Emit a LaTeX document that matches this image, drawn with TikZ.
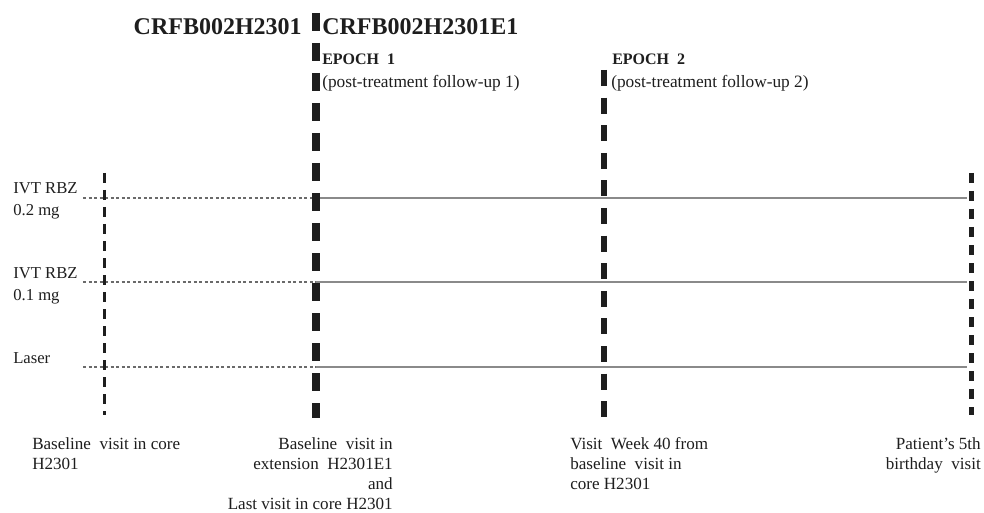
\documentclass[tikz,border=0pt]{standalone}
\usepackage{fontspec}
\setmainfont{Liberation Serif}
\definecolor{ink}{HTML}{1E1E1E}
\definecolor{armgray}{HTML}{8A8A8A}
\definecolor{dotgray}{HTML}{6A6A6A}
\tikzset{
  vthin/.style={ink, line width=2.25pt, dash pattern=on 7.5pt off 5.25pt},
  vthick/.style={ink, line width=5.4pt, dash pattern=on 13.5pt off 9pt},
  vmid/.style={ink, line width=4.5pt, dash pattern=on 12pt off 8.7pt},
  vend/.style={ink, line width=3.75pt, dash pattern=on 7.5pt off 6pt},
  armdot/.style={dotgray, line width=1.5pt, dash pattern=on 2.25pt off 1.9pt},
  armsolid/.style={armgray, line width=1.5pt},
  title/.style={ink, inner sep=0pt, font={\fontsize{18}{21}\selectfont\bfseries}},
  epoch/.style={ink, inner sep=0pt, font={\fontsize{12}{14}\selectfont\bfseries}},
  sub/.style={ink, inner sep=0pt, font={\fontsize{13}{15}\selectfont}},
  armlab/.style={ink, inner sep=0pt, align=left, font={\fontsize{12.5}{16.5}\selectfont}},
  botl/.style={ink, inner sep=0pt, align=left, font={\fontsize{12.8}{15}\selectfont}},
  botr/.style={ink, inner sep=0pt, align=right, font={\fontsize{12.8}{15}\selectfont}},
}
\begin{document}
\begin{tikzpicture}[x=0.75pt,y=-0.75pt]
\useasboundingbox (0,0) rectangle (984,513);
% vertical markers
\coordinate (a1) at (104,173); \coordinate (a2) at (104,415);
\coordinate (b1) at (316,13);  \coordinate (b2) at (316,418);
\coordinate (c1) at (604,70);  \coordinate (c2) at (604,417);
\coordinate (d1) at (971,173); \coordinate (d2) at (971,415);
% arm lines
\coordinate (s1) at (83,198);  \coordinate (m1) at (316,198); \coordinate (e1) at (967,198);
\coordinate (s2) at (83,282);  \coordinate (m2) at (316,282); \coordinate (e2) at (967,282);
\coordinate (s3) at (83,367);  \coordinate (m3) at (316,367); \coordinate (e3) at (967,367);
\draw[armdot] (s1) -- (m1);
\draw[armdot] (s2) -- (m2);
\draw[armdot] (s3) -- (m3);
\draw[armsolid] (m1) -- (e1);
\draw[armsolid] (m2) -- (e2);
\draw[armsolid] (m3) -- (e3);
\draw[vthin] (a1) -- (a2);
\draw[vthick] (b1) -- (b2);
\draw[vmid] (c1) -- (c2);
\draw[vend] (d1) -- (d2);
% titles
\node[title, anchor=base east] (t1) at (302,35) {CRFB002H2301};
\node[title, anchor=base west] (t2) at (322,35) {CRFB002H2301E1};
\node[epoch, anchor=base west] (ep1) at (322,65) {EPOCH\ \ 1};
\node[sub, anchor=base west] (fu1) at (322,88) {(post-treatment follow-up 1)};
\node[epoch, anchor=base west] (ep2) at (612,65) {EPOCH\ \ 2};
\node[sub, anchor=base west] (fu2) at (611,88) {(post-treatment follow-up 2)};
% arm labels
\node[armlab, anchor=north west] (l1) at (13,182) {IVT RBZ\\0.2 mg};
\node[armlab, anchor=north west] (l2) at (13,267) {IVT RBZ\\0.1 mg};
\node[armlab, anchor=north west] (l3) at (13,352) {Laser};
% bottom labels
\node[botl, anchor=north west] (v1) at (32,437) {Baseline\ \ visit in core\\H2301};
\node[botr, anchor=north east] (v2) at (393,437) {Baseline\ \ visit in\\extension\ \ H2301E1\\and\\Last visit in core H2301};
\node[botl, anchor=north west] (v3) at (570,437) {Visit\ \ Week 40 from\\baseline\ \ visit in\\core H2301};
\node[botr, anchor=north east] (v4) at (981,437) {Patient's 5th\\birthday\ \ visit};
\end{tikzpicture}
\end{document}
